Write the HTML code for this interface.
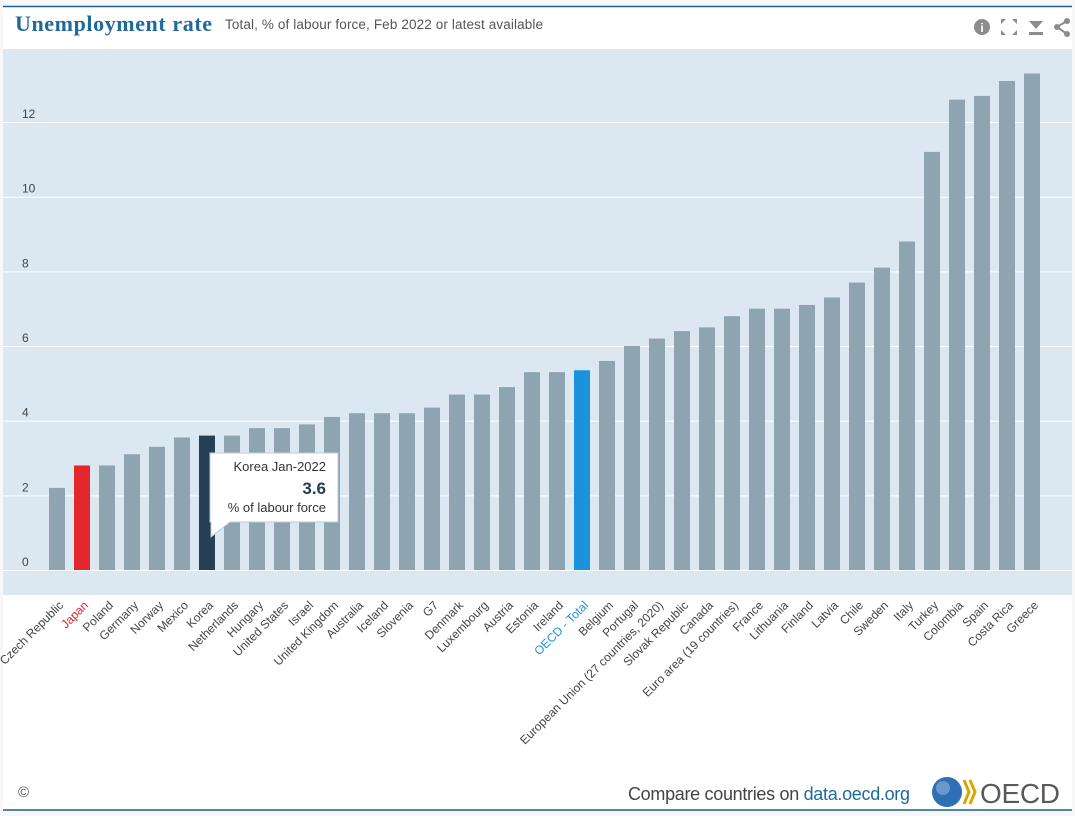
<!DOCTYPE html>
<html><head><meta charset="utf-8"><style>
html,body{margin:0;padding:0;background:#f7f7f7;}
svg{display:block;font-family:"Liberation Sans",sans-serif;}
</style></head><body>
<svg id="c" width="1075" height="816" viewBox="0 0 1075 816">
<rect x="3" y="6" width="1069" height="804" fill="#fff"/>
<line x1="3" y1="6.5" x2="1072" y2="6.5" stroke="#1f5f8b" stroke-width="1.5"/>
<line x1="3" y1="810" x2="1072" y2="810" stroke="#1f5f8b" stroke-width="1.5"/>
<text x="15" y="31" font-family="Liberation Serif,serif" font-weight="bold" font-size="22" fill="#1f6a99" textLength="197">Unemployment rate</text>
<text x="225" y="29" font-size="13.5" fill="#555" textLength="318">Total, % of labour force, Feb 2022 or latest available</text>
<g fill="#8c8c8c">
<circle cx="982" cy="27" r="8"/>
<text x="982" y="32" font-size="12" font-weight="bold" fill="#fff" text-anchor="middle">i</text>
<g><path d="M1001 19h5l-5 5zM1017 19h-5l5 5zM1001 35h5l-5-5zM1017 35h-5l5-5z"/></g>
<g><path d="M1029 21h14l-7 8z"/><rect x="1029" y="32" width="14" height="3"/></g>
<g><circle cx="1067" cy="21" r="3"/><circle cx="1067" cy="34" r="3"/><circle cx="1057" cy="27" r="3"/><path d="M1057 27L1067 21M1057 27L1067 34" stroke="#8c8c8c" stroke-width="2"/></g>
</g>
<rect x="3" y="49" width="1069" height="546" fill="#dce8f1"/>
<g id="grid"></g><g id="bars"></g><g id="xl"></g>
<g>
<path d="M210 453h128v69H230l-19 15v-15h-1z" fill="#fff" stroke="#bcd" />
<text x="326" y="471" font-size="13" fill="#333" text-anchor="end">Korea Jan-2022</text>
<text x="326" y="494" font-size="17" font-weight="bold" fill="#243c53" text-anchor="end">3.6</text>
<text x="326" y="512" font-size="13" fill="#333" text-anchor="end">% of labour force</text>
</g>
<text x="18" y="797" font-size="15" fill="#555">©</text>
<text x="628" y="800" font-size="18" fill="#444" textLength="282">Compare countries on <tspan fill="#1f6a99">data.oecd.org</tspan></text>
<g>
<circle cx="947" cy="792" r="15" fill="#2f6fb3"/><circle cx="943" cy="788" r="7" fill="#8fb6dd" opacity="0.6"/>
<path d="M964 780l5 12-5 12M970 780l5 12-5 12" stroke="#d9a600" stroke-width="3" fill="none"/>
<text x="980" y="803" font-size="28" fill="#5a5a5a" textLength="80">OECD</text>
</g>
</svg>
<script>
const categories=["Czech Republic","Japan","Poland","Germany","Norway","Mexico","Korea","Netherlands","Hungary","United States","Israel","United Kingdom","Australia","Iceland","Slovenia","G7","Denmark","Luxembourg","Austria","Estonia","Ireland","OECD - Total","Belgium","Portugal","European Union (27 countries, 2020)","Slovak Republic","Canada","Euro area (19 countries)","France","Lithuania","Finland","Latvia","Chile","Sweden","Italy","Turkey","Colombia","Spain","Costa Rica","Greece"];
const values=[2.2,2.8,2.8,3.1,3.3,3.55,3.6,3.6,3.8,3.8,3.9,4.1,4.2,4.2,4.2,4.35,4.7,4.7,4.9,5.3,5.3,5.35,5.6,6.0,6.2,6.4,6.5,6.8,7.0,7.0,7.1,7.3,7.7,8.1,8.8,11.2,12.6,12.7,13.1,13.3];
const yTicks=[0,2,4,6,8,10,12];
const NS="http://www.w3.org/2000/svg";
const y=v=>570-v*37.33;
const x=i=>57+i*25;
const g=document.getElementById('grid'),b=document.getElementById('bars'),xl=document.getElementById('xl');
function mk(t,a){const e=document.createElementNS(NS,t);for(const k in a)e.setAttribute(k,a[k]);return e;}
yTicks.forEach(t=>{
 const l=mk('line',{x1:3,x2:1072,y1:y(t)+0.5,y2:y(t)+0.5,stroke:'#fff','stroke-width':1});
 
 
 g.appendChild(l);
 const tx=mk('text',{x:22,y:y(t)-4,'font-size':12,fill:'#444'});tx.textContent=t;
 
 
 g.appendChild(tx);
});
categories.forEach((c,i)=>{
 let col='#8fa4b1';
 if(c==='Japan')col='#e3262b';else if(c==='Korea')col='#253f55';else if(c==='OECD - Total')col='#1a93dc';
 const r=mk('rect',{x:x(i)-8,y:y(values[i]),width:16,height:570-y(values[i]),fill:col});
 
 
 b.appendChild(r);
 const t=mk('text',{x:x(i)+7,y:606,'font-size':12,fill:c==='Japan'?'#e3262b':(c==='OECD - Total'?'#1a93dc':'#444'),'text-anchor':'end',transform:`rotate(-45 ${x(i)+7} 606)`});
 t.textContent=c;
 
 
 xl.appendChild(t);
});
</script>
</body></html>
